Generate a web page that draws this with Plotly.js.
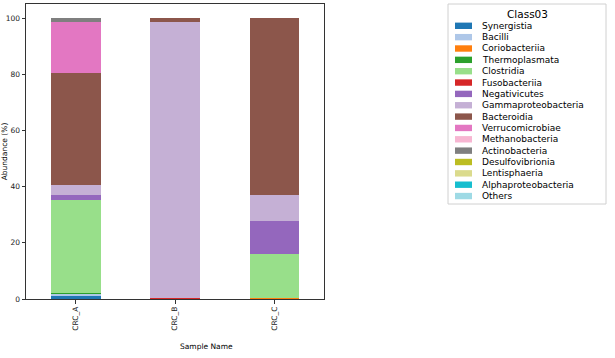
<!DOCTYPE html>
<html><head><meta charset="utf-8">
<script src="https://cdn.plot.ly/plotly-3.0.1.min.js"></script>
<style>html,body{margin:0;padding:0;background:#fff}#chart{width:615px;height:358px}</style>
</head><body><div id="chart"></div>
<script>
// Samples (x categories)
const samples = ['CRC_A', 'CRC_B', 'CRC_C'];
// Class03 names (legend order, stacking order bottom -> top)
const classNames = ['Synergistia','Bacilli','Coriobacteriia','Thermoplasmata','Clostridia','Fusobacteriia',
  'Negativicutes','Gammaproteobacteria','Bacteroidia','Verrucomicrobiae','Methanobacteria',
  'Actinobacteria','Desulfovibrionia','Lentisphaeria','Alphaproteobacteria','Others'];
const classColors = ['#1f77b4','#aec7e8','#ff7f0e','#2ca02c','#98df8a','#d62728','#9467bd','#c5b0d5',
  '#8c564b','#e377c2','#f7b6d2','#7f7f7f','#bcbd22','#dbdb8d','#17becf','#9edae5'];

// Abundance (%) per class, in sample order [CRC_A, CRC_B, CRC_C]
const synergistia         = [1.2, 0.0, 0.0];
const bacilli             = [0.6, 0.0, 0.0];
const coriobacteriia      = [0.1, 0.0, 0.3];
const thermoplasmata      = [0.3, 0.0, 0.0];
const clostridia          = [33.0, 0.0, 15.7];
const fusobacteriia       = [0.0, 0.4, 0.0];
const negativicutes       = [1.7, 0.0, 11.9];
const gammaproteobacteria = [3.8, 98.2, 9.1];
const bacteroidia         = [39.8, 1.4, 63.0];
const verrucomicrobiae    = [18.0, 0.0, 0.0];
const methanobacteria     = [0.0, 0.0, 0.0];
const actinobacteria      = [1.4, 0.0, 0.0];
const desulfovibrionia    = [0.0, 0.0, 0.0];
const lentisphaeria       = [0.0, 0.0, 0.0];
const alphaproteobacteria = [0.05, 0.0, 0.0];
const others              = [0.05, 0.0, 0.0];

const seriesValues = [synergistia, bacilli, coriobacteriia, thermoplasmata, clostridia, fusobacteriia,
  negativicutes, gammaproteobacteria, bacteroidia, verrucomicrobiae, methanobacteria,
  actinobacteria, desulfovibrionia, lentisphaeria, alphaproteobacteria, others];

const yTicks = [0, 20, 40, 60, 80, 100];

const traces = classNames.map((name, i) => ({
  type: 'bar', name: name, x: samples, y: seriesValues[i],
  marker: {color: classColors[i], line: {width: 0}},
  width: 0.5, showlegend: false, hoverinfo: 'name+y'
}));

// geometry (pixels)
const W = 615, H = 358;
const M = {l: 26, r: 291, t: 4, b: 59};
const pw = W - M.l - M.r, ph = H - M.t - M.b;
const px2x = p => (p - M.l) / pw;
const px2y = p => (H - M.b - p) / ph;

// custom legend (matplotlib style)
const font = 'DejaVu Sans, sans-serif';
const shapes = [{
  type: 'rect', xref: 'paper', yref: 'paper',
  x0: px2x(448), x1: px2x(606), y0: px2y(204), y1: px2y(4),
  line: {color: '#d0d0d0', width: 1}, fillcolor: 'rgba(255,255,255,0.8)'
}];
const annotations = [{
  xref: 'paper', yref: 'paper', x: px2x(527), y: px2y(14), text: 'Class03',
  showarrow: false, xanchor: 'center', yanchor: 'middle',
  font: {family: font, size: 10.5, color: '#000'}
}, {
  xref: 'paper', yref: 'paper', x: px2x(206), y: px2y(346), text: 'Sample Name',
  showarrow: false, xanchor: 'center', yanchor: 'middle',
  font: {family: font, size: 7.5, color: '#000'}
}];
classNames.forEach((name, i) => {
  const cy = 25.8 + i * 11.35;
  shapes.push({
    type: 'rect', xref: 'paper', yref: 'paper',
    x0: px2x(455), x1: px2x(472), y0: px2y(cy + 3.2), y1: px2y(cy - 3.2),
    line: {width: 0}, fillcolor: classColors[i]
  });
  annotations.push({
    xref: 'paper', yref: 'paper', x: px2x(480), y: px2y(cy), text: name,
    showarrow: false, xanchor: 'left', yanchor: 'middle',
    font: {family: font, size: 9, color: '#000'}
  });
});

const layout = {
  width: W, height: H, barmode: 'stack', bargap: 0.5,
  margin: M, paper_bgcolor: '#fff', plot_bgcolor: '#fff',
  font: {family: font, size: 7.5, color: '#222'},
  showlegend: false,
  xaxis: {
    range: [-0.5, 2.5], showline: true, mirror: true, linecolor: '#333', linewidth: 1,
    ticks: 'outside', ticklen: 3.5, tickcolor: '#333', tickangle: -90, showgrid: false,
    zeroline: false, tickfont: {size: 7.5, color: '#222'}, automargin: false
  },
  yaxis: {
    range: [0, 105], showline: true, mirror: true, linecolor: '#333', linewidth: 1,
    ticks: 'outside', ticklen: 3.5, tickcolor: '#333', tickvals: yTicks, showgrid: false,
    zeroline: false, tickfont: {size: 7.5, color: '#222'},
    title: {text: 'Abundance (%)', font: {size: 7.5, color: '#000'}, standoff: 3}, automargin: false
  },
  shapes: shapes, annotations: annotations
};

Plotly.newPlot('chart', traces, layout, {displayModeBar: false, staticPlot: true});
</script>
</body></html>
